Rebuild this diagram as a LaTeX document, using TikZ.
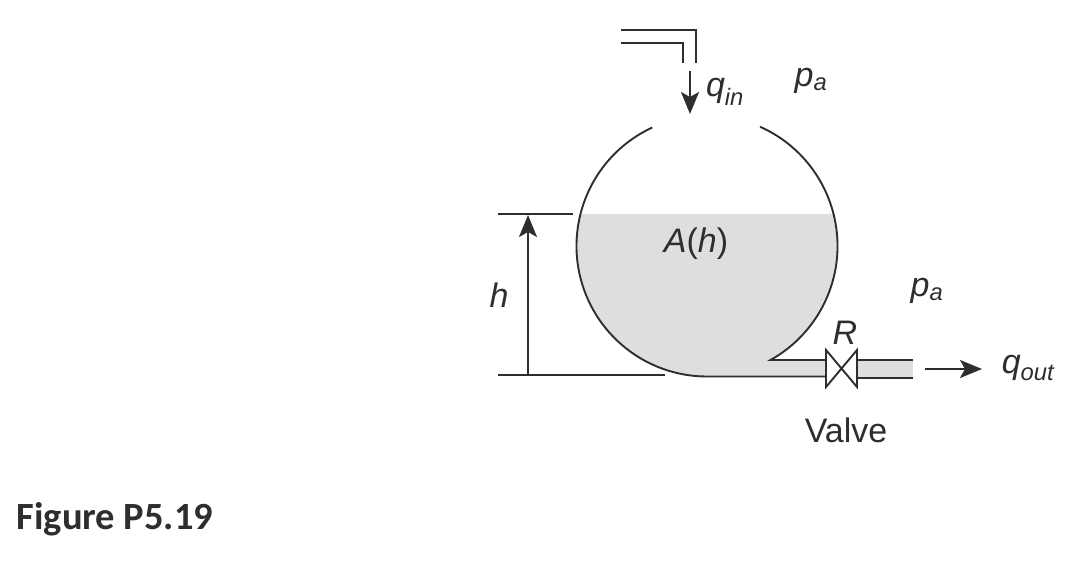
\documentclass[tikz,border=0pt]{standalone}
\usepackage{fontspec}
\setmainfont{Liberation Sans}
\newfontfamily\figfont{Carlito}
\usetikzlibrary{arrows.meta}
\definecolor{ink}{HTML}{2E2E30}
\definecolor{liquid}{HTML}{DDDEE0}
\tikzset{
  wall/.style={draw=ink,line width=1.9pt},
  flow/.style={draw=ink,line width=1.9pt,-{Stealth[length=22pt,width=18pt,inset=5pt]}},
  lab/.style={inner sep=0pt,text=ink,font=\fontsize{34}{38}\selectfont}
}
\begin{document}
\begin{tikzpicture}[x=1pt,y=1pt]
\useasboundingbox (0,0) rectangle (1091,-568);
\coordinate (c) at (707,-246);
% liquid
\fill[liquid] ([shift={(165.8:130.5)}]c) arc[start angle=165.8,end angle=270,radius=130.5] -- (826,-376.5) -- (826,-360) -- ([shift={(-60.9:130.5)}]c)
  arc[start angle=-60.9,end angle=14.2,radius=130.5] -- cycle;
\fill[liquid] (857,-360) rectangle (913,-378);
% tank
\draw[wall] ([shift={(114.8:130.5)}]c) arc[start angle=114.8,end angle=270,radius=130.5] -- (826,-376.5);
\draw[wall] ([shift={(66:130.5)}]c) arc[start angle=66,end angle=-60.9,radius=130.5] -- (826,-360);
% valve and pipe
\coordinate (vtl) at (826,-350); \coordinate (vbl) at (826,-387);
\coordinate (vtr) at (857,-350); \coordinate (vbr) at (857,-387);
\draw[wall] (vtl) -- (vbr) -- (vtr) -- (vbl) -- cycle;
\draw[wall] (857,-360) -- (913,-360);
\draw[wall] (857,-378) -- (913,-378);
% inlet
\draw[wall] (621,-30) -- (696,-30) -- (696,-63);
\draw[wall] (621,-43) -- (683,-43) -- (683,-63);
\coordinate (qa) at (690,-71); \coordinate (qb) at (690,-114);
\draw[flow] (qa) -- (qb);
% height
\draw[wall] (498,-214) -- (573,-214);
\draw[wall] (498,-375) -- (665,-375);
\coordinate (ha) at (528,-375); \coordinate (hb) at (528,-215);
\draw[flow] (ha) -- (hb);
% outlet arrow
\coordinate (oa) at (925,-369); \coordinate (ob) at (982,-369);
\draw[flow] (oa) -- (ob);
% labels
\node[lab] (qin) at (725,-92) {\itshape q\textsubscript{in}};
\node[lab] (pa1) at (811,-81) {\itshape p\textsubscript{a}};
\node[lab] (area) at (696,-244) {\itshape A\textup{(}h\textup{)}};
\node[lab] (hl) at (499,-295) {\itshape h};
\node[lab] (pa2) at (927,-291) {\itshape p\textsubscript{a}};
\node[lab] (rl) at (845,-333) {\itshape R};
\node[lab] (valve) at (846,-430) {Valve};
\node[lab] (qout) at (1028,-368) {\itshape q\textsubscript{out}};
\node[inner sep=0pt,text=ink,font=\figfont\bfseries\fontsize{38.5}{42}\selectfont] (fig) at (115,-519) {Figure P5.19};
\end{tikzpicture}
\end{document}
